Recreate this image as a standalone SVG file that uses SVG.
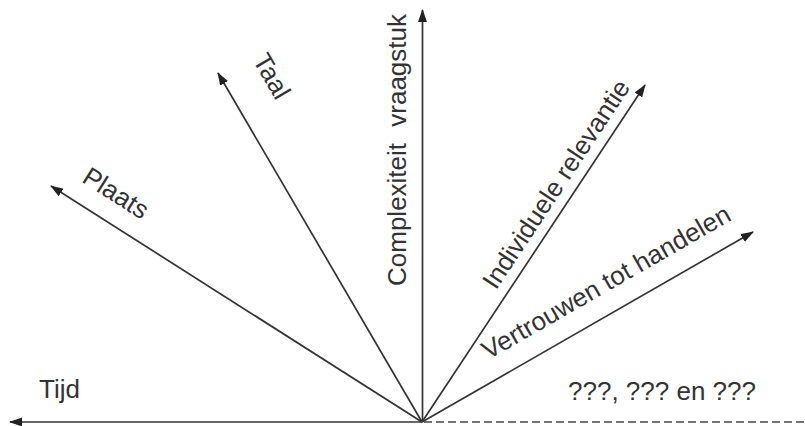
<svg xmlns="http://www.w3.org/2000/svg" width="805" height="426" viewBox="0 0 805 426">
  <style>
    .lbl { font-family: "Liberation Sans", Arial, sans-serif; font-size: 26px; fill: #333; }
    .ax { stroke: #333; stroke-width: 1.7; fill: none; }
    .dash { stroke: #444; stroke-width: 1.7; stroke-dasharray: 8 4; fill: none; }
  </style>
  <defs>
    <marker id="arr" markerUnits="userSpaceOnUse" markerWidth="14" markerHeight="10" refX="12" refY="4.5" orient="auto">
      <path d="M0,0 L13,4.5 L0,9 Z" fill="#222"/>
    </marker>
  </defs>
  <rect width="805" height="426" fill="#fff"/>
  <g id="connectors">
    <line class="ax" x1="422" y1="422" x2="10" y2="422" marker-end="url(#arr)"/>
    <line class="dash" x1="424" y1="422" x2="805" y2="422"/>
    <line class="ax" x1="422" y1="422" x2="51" y2="186" marker-end="url(#arr)"/>
    <line class="ax" x1="422" y1="422" x2="218" y2="73" marker-end="url(#arr)"/>
    <line class="ax" x1="422.5" y1="422" x2="422.5" y2="10" marker-end="url(#arr)"/>
    <line class="ax" x1="422" y1="422" x2="645" y2="85" marker-end="url(#arr)"/>
    <line class="ax" x1="422" y1="422" x2="753" y2="232" marker-end="url(#arr)"/>
  </g>
  <g id="tijd"><text class="lbl" x="39" y="398">Tijd</text></g>
  <g id="onbekend"><text class="lbl" x="568" y="400">???, ??? en ???</text></g>
  <g id="plaats"><text class="lbl" transform="translate(116,193) rotate(32.5)" x="0" y="9" text-anchor="middle">Plaats</text></g>
  <g id="taal"><text class="lbl" transform="translate(272,76) rotate(59.7)" x="0" y="9" text-anchor="middle">Taal</text></g>
  <g id="complexiteit"><text class="lbl" transform="translate(406,150) rotate(-90)" x="0" y="0" text-anchor="middle">Complexiteit<tspan dx="9"> vraagstuk</tspan></text></g>
  <g id="relevantie"><text class="lbl" transform="translate(556,184) rotate(-56.5)" x="0" y="9" text-anchor="middle">Individuele relevantie</text></g>
  <g id="vertrouwen"><text class="lbl" transform="translate(606,282) rotate(-29.9)" x="0" y="9" text-anchor="middle">Vertrouwen tot handelen</text></g>
</svg>
